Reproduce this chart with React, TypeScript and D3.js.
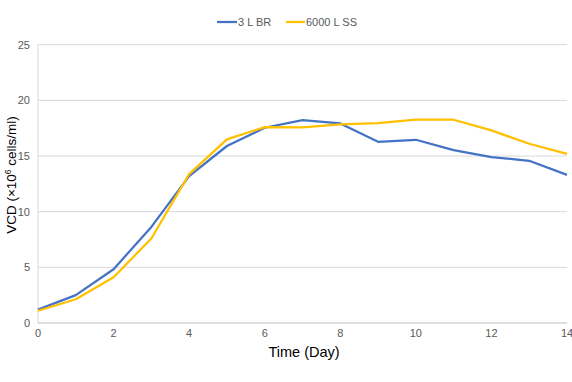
import React from "react";
import * as d3 from "d3";

const days = [0, 1, 2, 3, 4, 5, 6, 7, 8, 9, 10, 11, 12, 13, 14];
const br3L = [1.2, 2.5, 4.83, 8.63, 13.2, 15.9, 17.54, 18.23, 17.93, 16.28, 16.46, 15.53, 14.9, 14.57, 13.31];
const ss6000L = [1.1, 2.13, 4.11, 7.59, 13.37, 16.49, 17.6, 17.57, 17.84, 17.96, 18.26, 18.26, 17.3, 16.1, 15.2];
const xTicks = [0, 2, 4, 6, 8, 10, 12, 14];
const yTicks = [0, 5, 10, 15, 20, 25];
const seriesNames = ["3 L BR", "6000 L SS"];
const colors = ["#4472C4", "#FFC000"];

const W = 572;
const H = 382;
const font = "Arial, 'Liberation Sans', sans-serif";

export default function App() {
  const x = d3.scaleLinear().domain([0, 14]).range([38, 567]);
  const y = d3.scaleLinear().domain([0, 25]).range([323, 44.7]);
  const line = d3
    .line<number>()
    .x((_, i) => x(days[i]))
    .y((d) => y(d));
  const series = [br3L, ss6000L];

  return (
    <svg
      width={W}
      height={H}
      style={{ position: "absolute", left: 0, top: 0, background: "#fff" }}
      fontFamily={font}
    >
      <rect x={0} y={0} width={W} height={H} fill="#fff" />
      {yTicks.map((t) =>
        t === 0 ? null : (
          <line key={t} x1={x(0)} x2={x(14)} y1={y(t)} y2={y(t)} stroke="#D9D9D9" strokeWidth={1} />
        )
      )}
      <line x1={x(0)} x2={x(0)} y1={y(25)} y2={y(0)} stroke="#D9D9D9" strokeWidth={1} />
      <line x1={x(0)} x2={x(14)} y1={y(0)} y2={y(0)} stroke="#BFBFBF" strokeWidth={1} />
      {yTicks.map((t) => (
        <text key={t} x={30} y={y(t)} dy="0.35em" textAnchor="end" fontSize={11} fill="#595959">
          {t}
        </text>
      ))}
      {xTicks.map((t) => (
        <text key={t} x={x(t)} y={337} textAnchor="middle" fontSize={11} fill="#595959">
          {t}
        </text>
      ))}
      {series.map((s, i) => (
        <path key={i} d={line(s) || ""} fill="none" stroke={colors[i]} strokeWidth={2.25} strokeLinejoin="round" />
      ))}
      <text x={304} y={357} textAnchor="middle" fontSize={14.5} fill="#000">
        Time (Day)
      </text>
      <text transform="translate(16,175) rotate(-90)" textAnchor="middle" fontSize={13.5} fill="#000">
        VCD (×10<tspan fontSize={8.5} dy={-5}>6</tspan>
        <tspan dy={5}> cells/ml)</tspan>
      </text>
      <g>
        <line x1={217} x2={237} y1={22} y2={22} stroke={colors[0]} strokeWidth={2.25} />
        <text x={238} y={22} dy="0.35em" fontSize={11} fill="#595959">
          {seriesNames[0]}
        </text>
        <line x1={286} x2={305} y1={22} y2={22} stroke={colors[1]} strokeWidth={2.25} />
        <text x={306} y={22} dy="0.35em" fontSize={11} fill="#595959">
          {seriesNames[1]}
        </text>
      </g>
    </svg>
  );
}
